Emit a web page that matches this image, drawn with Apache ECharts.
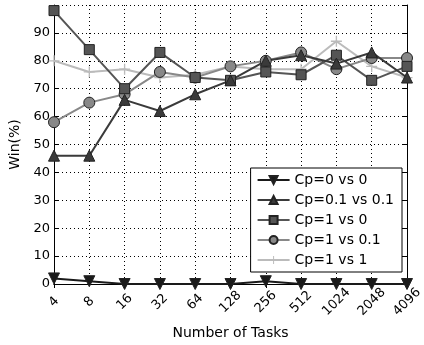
<!DOCTYPE html>
<html>
<head>
<meta charset="utf-8">
<script src="https://cdn.jsdelivr.net/npm/echarts@6/dist/echarts.min.js"></script>
<style>
html,body{margin:0;padding:0;background:#fff;}
#chart{width:424px;height:345px;}
</style>
</head>
<body>
<div id="chart"></div>
<script>
// number of tasks (x categories)
var tasks = ['4','8','16','32','64','128','256','512','1024','2048','4096'];
// win rates (%)
var cp0vs0 = [2,1,0,0,0,0,1,0,0,0,0];
var cp01vs01 = [46,46,66,62,68,73,80,82,79,83,74];
var cp1vs0 = [98,84,70,83,74,73,76,75,82,73,78];
var cp1vs01 = [58,65,68,76,74,78,80,83,77,81,81];
var cp1vs1 = [80,76,77,74,75,78,77,77,87,78,74];

var font = 'DejaVu Sans';
var plus = 'path://M4.4,0H5.6V4.4H10V5.6H5.6V10H4.4V5.6H0V4.4H4.4Z';

function makeSeries(name, data, color, symbol, size, rotate)
{
	return {
		name: name,
		type: 'line',
		data: data,
		symbol: symbol,
		symbolSize: size,
		symbolRotate: rotate || 0,
		showAllSymbol: true,
		lineStyle: {color: color, width: 2},
		itemStyle: {color: color, borderColor: symbol == plus ? color : '#222', borderWidth: symbol == plus ? 0 : 1},
		emphasis: {disabled: true},
		animation: false
	};
}

var chart = echarts.init(document.getElementById('chart'));
var option = {
	backgroundColor: '#fff',
	textStyle: {fontFamily: font},
	grid: {left: 54, right: 17, top: 5, bottom: 61, outerBoundsMode: 'none'},
	legend: {
		orient: 'vertical',
		right: 22,
		top: 168,
		backgroundColor: '#fff',
		borderColor: '#000',
		borderWidth: 1,
		padding: [5, 8, 5, 6],
		itemGap: 6,
		itemWidth: 32,
		itemHeight: 10,
		textStyle: {fontFamily: font, fontSize: 14, color: '#000'},
		data: ['Cp=0 vs 0','Cp=0.1 vs 0.1','Cp=1 vs 0','Cp=1 vs 0.1','Cp=1 vs 1']
	},
	xAxis: [{
		type: 'category',
		data: tasks,
		boundaryGap: false,
		name: 'Number of Tasks',
		nameLocation: 'middle',
		nameGap: 42,
		nameTextStyle: {fontFamily: font, fontSize: 14, color: '#000'},
		axisLine: {lineStyle: {color: '#000', width: 1}},
		axisTick: {inside: true, length: 4, lineStyle: {color: '#000'}},
		axisLabel: {rotate: 45, align: 'center', verticalAlign: 'middle',
			fontFamily: font, fontSize: 13, color: '#000', margin: 18},
		splitLine: {show: true, lineStyle: {color: '#000', type: [1, 3], width: 1}}
	},{
		type: 'category',
		data: tasks,
		boundaryGap: false,
		position: 'top',
		axisLine: {lineStyle: {color: '#000', width: 1}},
		axisTick: {inside: true, length: 4, lineStyle: {color: '#000'}},
		axisLabel: {show: false}
	}],
	yAxis: [{
		type: 'value',
		min: 0,
		max: 100,
		interval: 10,
		name: 'Win(%)',
		nameLocation: 'middle',
		nameGap: 29,
		nameTextStyle: {fontFamily: font, fontSize: 14, color: '#000'},
		axisLine: {show: true, lineStyle: {color: '#000', width: 1}},
		axisTick: {show: true, inside: true, length: 4, lineStyle: {color: '#000'}},
		axisLabel: {fontFamily: font, fontSize: 13, color: '#000', margin: 4,
			formatter: function(v){ return v >= 100 ? '' : v; }},
		splitLine: {show: true, lineStyle: {color: '#000', type: [1, 3], width: 1}}
	},{
		type: 'value',
		min: 0,
		max: 100,
		interval: 10,
		position: 'right',
		axisLine: {show: true, lineStyle: {color: '#000', width: 1}},
		axisTick: {show: true, inside: true, length: 4, lineStyle: {color: '#000'}},
		axisLabel: {show: false},
		splitLine: {show: false}
	}],
	series: [
		makeSeries('Cp=1 vs 1', cp1vs1, '#bbbbbb', plus, 11),
		makeSeries('Cp=1 vs 0.1', cp1vs01, '#888888', 'circle', 11),
		makeSeries('Cp=1 vs 0', cp1vs0, '#555555', 'rect', 10),
		makeSeries('Cp=0.1 vs 0.1', cp01vs01, '#3a3a3a', 'triangle', 11),
		makeSeries('Cp=0 vs 0', cp0vs0, '#1a1a1a', 'triangle', 11, 180)
	]
};
chart.setOption(option);
</script>
</body>
</html>
